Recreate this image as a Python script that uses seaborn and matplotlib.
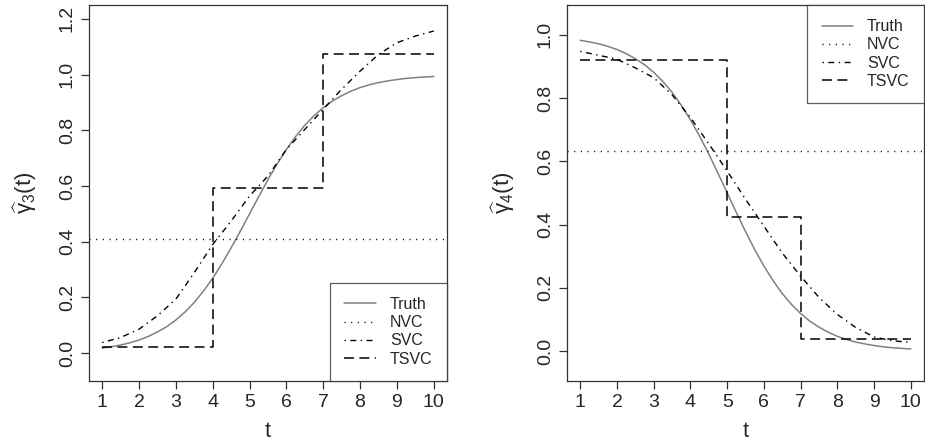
import numpy as np
import pandas as pd
import matplotlib
matplotlib.use("Agg")
import matplotlib.pyplot as plt
import seaborn as sns

# fine grid for the true curves, coarse grid for the SVC estimates
t_fine = [1.0, 1.25, 1.5, 1.75, 2.0, 2.25, 2.5, 2.75, 3.0, 3.25, 3.5, 3.75,
          4.0, 4.25, 4.5, 4.75, 5.0, 5.25, 5.5, 5.75, 6.0, 6.25, 6.5, 6.75,
          7.0, 7.25, 7.5, 7.75, 8.0, 8.25, 8.5, 8.75, 9.0, 9.25, 9.5, 9.75, 10.0]
t_half = [1.0, 1.5, 2.0, 2.5, 3.0, 3.5, 4.0, 4.5, 5.0, 5.5,
          6.0, 6.5, 7.0, 7.5, 8.0, 8.5, 9.0, 9.5, 10.0]

# panel 1: gamma_3
truth3 = [0.018, 0.023, 0.029, 0.037, 0.047, 0.060, 0.076, 0.095, 0.119, 0.148,
          0.182, 0.223, 0.269, 0.321, 0.378, 0.438, 0.500, 0.562, 0.623, 0.679,
          0.731, 0.777, 0.818, 0.852, 0.881, 0.905, 0.924, 0.940, 0.953, 0.963,
          0.971, 0.977, 0.982, 0.986, 0.989, 0.991, 0.993]
svc3 = [0.038, 0.056, 0.086, 0.134, 0.194, 0.289, 0.390, 0.474, 0.564, 0.636,
        0.731, 0.803, 0.875, 0.947, 1.012, 1.072, 1.114, 1.138, 1.156]
nvc3 = 0.408
tsvc3_t = [1, 4, 7, 10]
tsvc3 = [0.022, 0.593, 1.073, 1.073]

# panel 2: gamma_4
truth4 = [0.982, 0.977, 0.971, 0.963, 0.953, 0.940, 0.924, 0.905, 0.881, 0.852,
          0.818, 0.777, 0.731, 0.679, 0.623, 0.562, 0.500, 0.438, 0.378, 0.321,
          0.269, 0.223, 0.182, 0.148, 0.119, 0.095, 0.076, 0.060, 0.047, 0.037,
          0.029, 0.023, 0.018, 0.014, 0.011, 0.009, 0.007]
svc4 = [0.947, 0.935, 0.922, 0.895, 0.864, 0.810, 0.738, 0.655, 0.569, 0.480,
        0.395, 0.310, 0.237, 0.170, 0.116, 0.075, 0.045, 0.033, 0.028]
nvc4 = 0.632
tsvc4_t = [1, 5, 7, 10]
tsvc4 = [0.921, 0.425, 0.040, 0.040]

x_ticks = list(range(1, 11))
labels = ["Truth", "NVC", "SVC", "TSVC"]

sns.set_style("white")
plt.rcParams['font.family'] = ['Liberation Sans', 'DejaVu Sans']
plt.rcParams['mathtext.fontset'] = 'custom'
plt.rcParams['mathtext.rm'] = 'Liberation Sans'
plt.rcParams['mathtext.it'] = 'Liberation Sans:italic'

fig = plt.figure(figsize=(9.25, 4.43), dpi=100)
ax1 = fig.add_axes([0.0962, 0.140, 0.387, 0.849])
ax2 = fig.add_axes([0.613, 0.140, 0.386, 0.849])

dot = (0, (0.8, 4.0))
dotdash = (0, (1.0, 3.2, 4.3, 3.2))
dash = (0, (6.5, 3.6))


def draw_panel(ax, truth, nvc, svc, step_t, step_v, ylab, ylim, yticks, loc):
    tdf = pd.DataFrame({"t": t_fine, "v": truth})
    sdf = pd.DataFrame({"t": t_half, "v": svc})
    kdf = pd.DataFrame({"t": step_t, "v": step_v})
    sns.lineplot(data=tdf, x="t", y="v", ax=ax, color="#808080", lw=1.1, label=labels[0])
    ax.axhline(nvc, color="black", lw=1.0, linestyle=dot, label=labels[1])
    sns.lineplot(data=sdf, x="t", y="v", ax=ax, color="black", lw=1.0, linestyle=dotdash, label=labels[2])
    sns.lineplot(data=kdf, x="t", y="v", ax=ax, color="black", lw=1.1, linestyle=dash,
                 drawstyle="steps-post", label=labels[3])

    ax.set_xlim(0.64, 10.36)
    ax.set_ylim(*ylim)
    ax.set_xticks(x_ticks)
    ax.set_yticks(yticks)
    ax.set_yticklabels([f"{v:.1f}" for v in yticks], rotation=90, va="center")
    ax.tick_params(axis="both", direction="out", length=5.5, width=0.9, labelsize=14,
                   bottom=True, left=True, color="#333333", pad=4)
    for s in ax.spines.values():
        s.set_visible(True)
        s.set_color("#333333")
        s.set_linewidth(0.9)
    ax.set_xlabel("t", fontsize=15.5, labelpad=7)
    ax.set_ylabel(ylab, fontsize=16, labelpad=14)

    leg = ax.legend(loc=loc, borderaxespad=0, fontsize=11.5, frameon=True, fancybox=False,
                    handlelength=2.0, handletextpad=0.85, labelspacing=0.2,
                    borderpad=0.9)
    leg.get_frame().set_edgecolor("#333333")
    leg.get_frame().set_linewidth(0.9)


draw_panel(ax1, truth3, nvc3, svc3, tsvc3_t, tsvc3, r"$\widehat{\mathrm{\gamma}}_3\mathrm{(t)}$",
           (-0.1, 1.25), [0.0, 0.2, 0.4, 0.6, 0.8, 1.0, 1.2], "lower right")
draw_panel(ax2, truth4, nvc4, svc4, tsvc4_t, tsvc4, r"$\widehat{\mathrm{\gamma}}_4\mathrm{(t)}$",
           (-0.094, 1.094), [0.0, 0.2, 0.4, 0.6, 0.8, 1.0], "upper right")

fig.savefig("out.png", dpi=100)
